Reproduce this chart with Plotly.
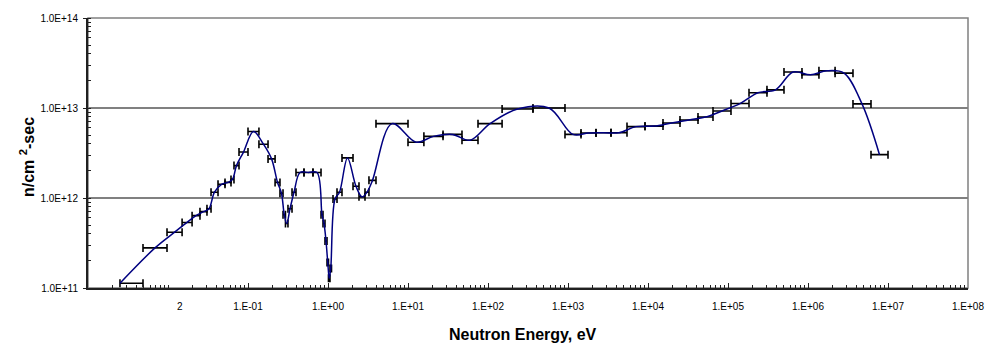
import plotly.graph_objects as go

# Energy bins (eV)
e_low = [2.51e-3, 4.87e-3, 9.72e-3, 1.50e-2, 2.00e-2, 2.51e-2, 3.07e-2, 3.45e-2, 4.22e-2, 5.16e-2,
         6.13e-2, 6.68e-2, 7.72e-2, 0.100, 0.137, 0.178, 0.218, 0.251, 0.274, 0.294,
         0.316, 0.355, 0.398, 0.501, 0.649, 0.818, 0.866, 0.917, 0.972, 1.014,
         1.059, 1.155, 1.296, 1.496, 2.054, 2.44, 2.90, 3.25, 3.98, 10.0,
         15.8, 27.4, 47.3, 75.0, 150.0, 365.0, 917.0, 1454.0, 2239.0, 3447.0,
         5464.0, 9173.0, 15400.0, 25120.0, 42170.0, 64940.0, 1.09e5, 1.83e5, 3.07e5, 5.01e5,
         8.41e5, 1.37e6, 2.18e6, 3.65e6, 6.13e6]
e_high = [4.87e-3, 9.72e-3, 1.50e-2, 2.00e-2, 2.51e-2, 3.07e-2, 3.45e-2, 4.22e-2, 5.16e-2, 6.13e-2,
          6.68e-2, 7.72e-2, 0.100, 0.137, 0.178, 0.218, 0.251, 0.274, 0.294, 0.316,
          0.355, 0.398, 0.501, 0.649, 0.818, 0.866, 0.917, 0.972, 1.014, 1.059,
          1.106, 1.296, 1.496, 2.054, 2.44, 2.90, 3.25, 3.98, 10.0, 15.8,
          27.4, 47.3, 75.0, 150.0, 365.0, 917.0, 1454.0, 2239.0, 3447.0, 5464.0,
          9173.0, 15400.0, 25120.0, 42170.0, 64940.0, 1.09e5, 1.83e5, 3.07e5, 5.01e5, 8.41e5,
          1.37e6, 2.18e6, 3.65e6, 6.13e6, 1.0e7]
# Representative energy of each point (where the curve passes)
energy = [2.51e-3, 6.88e-3, 1.21e-2, 1.73e-2, 2.24e-2, 2.78e-2, 3.25e-2, 3.81e-2, 4.67e-2, 5.62e-2,
          6.40e-2, 7.18e-2, 8.79e-2, 0.117, 0.156, 0.197, 0.234, 0.262, 0.284, 0.305,
          0.335, 0.376, 0.447, 0.571, 0.729, 0.841, 0.891, 0.944, 0.993, 1.037,
          1.082, 1.223, 1.393, 1.753, 2.239, 2.661, 3.073, 3.597, 6.31, 12.6,
          20.8, 36.0, 59.6, 106.0, 234.0, 579.0, 1155.0, 1803.0, 2779.0, 4341.0,
          7079.0, 11885.0, 19670.0, 32550.0, 52360.0, 84140.0, 1.413e5, 2.371e5, 3.924e5, 6.494e5,
          1.075e6, 1.728e6, 2.818e6, 4.732e6, 7.83e6]
# Flux (n/cm^2-sec)
flux = [1.13e11, 2.79e11, 4.17e11, 5.35e11, 6.37e11, 7.05e11, 7.59e11, 1.16e12, 1.42e12, 1.49e12,
        1.61e12, 2.29e12, 3.24e12, 5.48e12, 3.96e12, 2.72e12, 1.49e12, 1.13e12, 6.53e11, 5.21e11,
        7.59e11, 1.16e12, 1.92e12, 1.92e12, 1.92e12, 6.53e11, 5.21e11, 3.33e11, 1.92e11, 1.28e11,
        1.65e11, 9.75e11, 1.16e12, 2.79e12, 1.35e12, 1.03e12, 1.16e12, 1.57e12, 6.70e12, 4.17e12,
        4.84e12, 5.09e12, 4.38e12, 6.70e12, 9.75e12, 1.00e13, 5.09e12, 5.28e12, 5.31e12, 5.31e12,
        6.21e12, 6.29e12, 6.82e12, 7.37e12, 7.93e12, 9.27e12, 1.12e13, 1.48e13, 1.59e13, 2.51e13,
        2.34e13, 2.59e13, 2.44e13, 1.11e13, 3.03e12]

x_tickvals = [1e-1, 1e0, 1e1, 1e2, 1e3, 1e4, 1e5, 1e6, 1e7, 1e8]
x_ticktext = ["1.E-01", "1.E+00", "1.E+01", "1.E+02", "1.E+03", "1.E+04", "1.E+05", "1.E+06", "1.E+07", "1.E+08"]
y_tickvals = [1e11, 1e12, 1e13, 1e14]
y_ticktext = ["1.0E+11", "1.0E+12", "1.0E+13", "1.0E+14"]

plus = [h - e for h, e in zip(e_high, energy)]
minus = [e - l for e, l in zip(energy, e_low)]

FONT = "Liberation Sans, Arial, sans-serif"

fig = go.Figure()
fig.add_trace(go.Scatter(
    x=energy, y=flux, mode="lines",
    line=dict(color="#000080", width=1.5, shape="spline", smoothing=1.0),
    error_x=dict(type="data", symmetric=False, array=plus, arrayminus=minus,
                 color="black", thickness=1.6, width=4),
    showlegend=False, hoverinfo="skip",
))

fig.update_layout(
    width=1001, height=346,
    margin=dict(l=88, r=33, t=13, b=58),
    paper_bgcolor="white", plot_bgcolor="white",
    font=dict(family=FONT, size=10, color="black"),
    showlegend=False,
    shapes=[dict(type="rect", xref="paper", yref="paper", x0=0, x1=1, y0=0, y1=1,
                 line=dict(color="#808080", width=1.5), layer="below")],
    annotations=[
        dict(text="Neutron Energy, eV", xref="paper", yref="paper", x=0.5, y=0,
             xanchor="center", yanchor="middle", xshift=-5, yshift=-46, showarrow=False,
             font=dict(family=FONT, size=16, color="black", weight="bold")),
        dict(text="n/cm <sup>2</sup>-sec", xref="paper", yref="paper", x=0, y=0.5,
             xanchor="center", yanchor="middle", xshift=-61, yshift=-4, textangle=-90,
             showarrow=False, font=dict(family=FONT, size=16, color="black", weight="bold")),
        dict(text="2", xref="paper", yref="paper", x=(180 - 88) / 880, y=0,
             xanchor="center", yanchor="middle", yshift=-18, showarrow=False,
             font=dict(family=FONT, size=10, color="black")),
    ],
)

fig.update_xaxes(
    type="log", range=[-3, 8], tickvals=x_tickvals, ticktext=x_ticktext,
    showline=True, linecolor="#202020", linewidth=2, mirror=False,
    ticks="inside", ticklen=5, tickcolor="#202020", tickwidth=1,
    minor=dict(ticks="inside", ticklen=3, dtick="D1", tickcolor="#202020", showgrid=False),
    showgrid=False, zeroline=False, ticklabelstandoff=8,
    tickfont=dict(family=FONT, size=10, color="black"),
)
fig.update_yaxes(
    type="log", range=[11, 14], tickvals=y_tickvals, ticktext=y_ticktext,
    showline=True, linecolor="#202020", linewidth=2, mirror=False,
    ticks="outside", ticklen=3, tickcolor="#202020", tickwidth=1,
    minor=dict(ticks="inside", ticklen=3, dtick="D1", tickcolor="#202020", showgrid=False),
    showgrid=True, gridcolor="#808080", gridwidth=1.5, zeroline=False,
    ticklabelstandoff=3,
    tickfont=dict(family=FONT, size=10, color="black"),
)

fig.write_html("out.html")
